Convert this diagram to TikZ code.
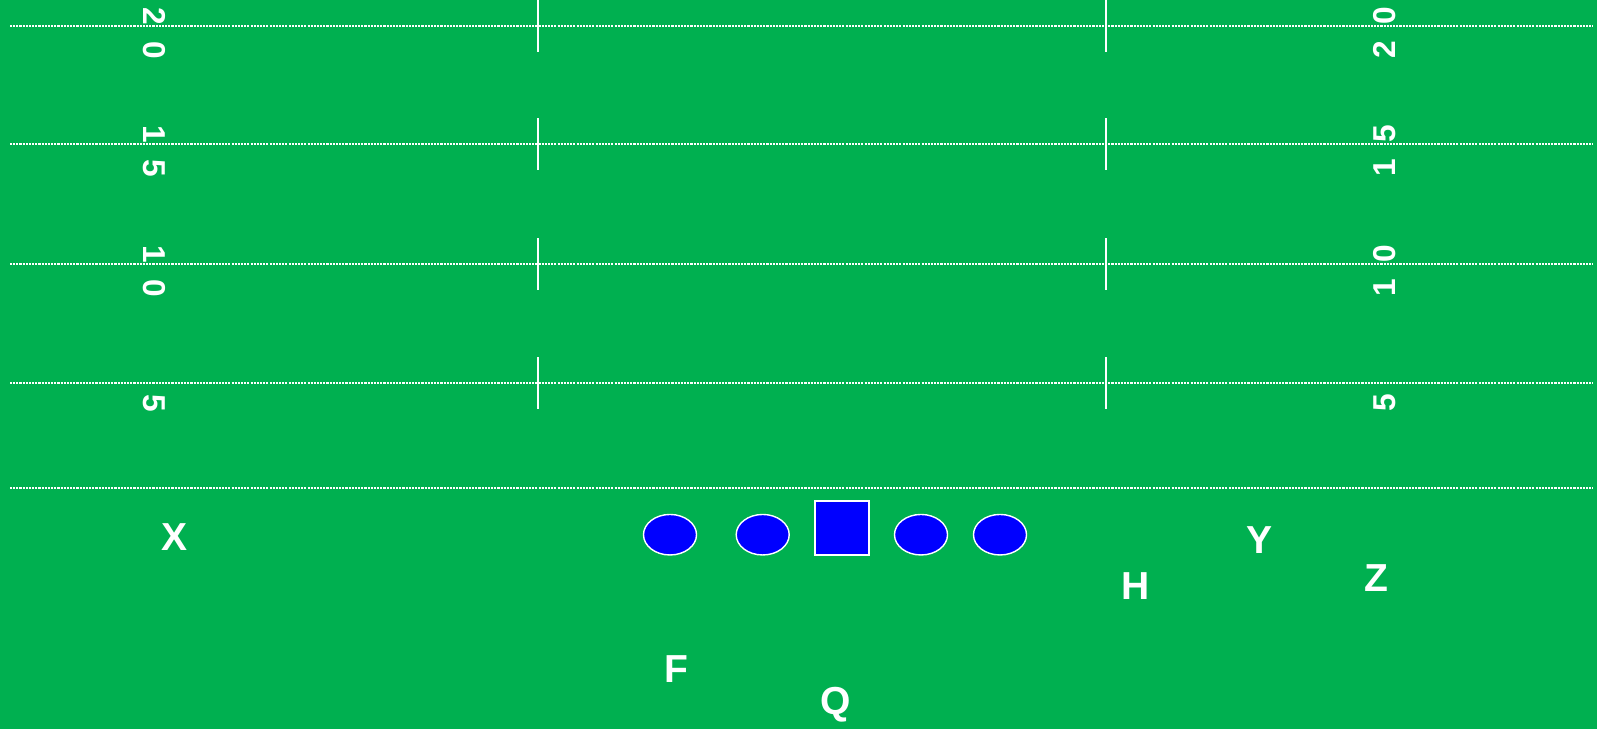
\documentclass[tikz,border=0pt]{standalone}
\usepackage{fontspec}
\setmainfont{Liberation Sans}
\usetikzlibrary{shapes.geometric}
\definecolor{turf}{RGB}{0,176,80}
\tikzset{
  yardline/.style={white,line width=0.35pt,dash pattern=on 0.6pt off 0.3pt},
  hashmark/.style={white,line width=0.6pt},
  yardnum/.style={text=white,font=\fontsize{9}{9}\selectfont\bfseries,inner sep=0pt,text height=6.45pt,text depth=0pt},
  lineman/.style={ellipse,draw=white,fill=blue,line width=0.4pt,minimum width=0.53cm,minimum height=0.405cm,inner sep=0pt},
  snapper/.style={rectangle,draw=white,fill=blue,line width=0.4pt,minimum size=0.54cm,inner sep=0pt},
  skill/.style={text=white,font=\fontsize{11.1}{11.1}\selectfont\bfseries,inner sep=0pt,text height=7.95pt,text depth=0pt}
}
\begin{document}
\begin{tikzpicture}[x=0.01cm,y=-0.01cm]
  \useasboundingbox (0,0) rectangle (1597,729);
  \fill[turf] (0,0) rectangle (1597,729);
  % yard lines and hash marks
  \foreach \y in {26,144,264,383,488} \draw[yardline] (10,\y) -- (1593,\y);
  \foreach \y in {26,144,264,383} {
    \draw[hashmark] (538,\y-26) -- (538,\y+26);
    \draw[hashmark] (1106,\y-26) -- (1106,\y+26);
  }
  % yard numbers
  \foreach \y/\a/\b in {26/2/0,144/1/5,264/1/0} {
    \node[yardnum,rotate=-90] (numl\y) at (155,\y+7) {\a\hspace{0.165cm}\b};
    \node[yardnum,rotate=90] (numr\y) at (1384,\y+7) {\a\hspace{0.165cm}\b};
  }
  \node[yardnum,rotate=-90] (numl383) at (155,403) {5};
  \node[yardnum,rotate=90] (numr383) at (1384,403) {5};
  % offensive line
  \node[lineman] (lt) at (670,534.7) {};
  \node[lineman] (lg) at (762.7,534.7) {};
  \node[snapper] (c) at (842,528) {};
  \node[lineman] (rg) at (921,534.7) {};
  \node[lineman] (rt) at (1000,534.7) {};
  % backs and receivers
  \node[skill] (x) at (175,537) {X};
  \node[skill] (f) at (676,668) {F};
  \node[skill] (q) at (836,700.5) {Q};
  \node[skill] (h) at (1135.5,585) {H};
  \node[skill] (y) at (1260,539.5) {Y};
  \node[skill] (z) at (1376,577) {Z};
\end{tikzpicture}
\end{document}
